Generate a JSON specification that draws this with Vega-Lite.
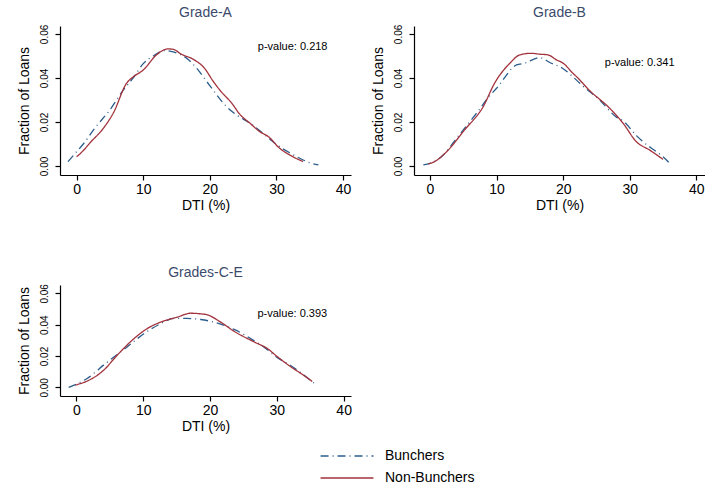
{
  "$schema": "https://vega.github.io/schema/vega-lite/v6.json",
  "padding": {"left": 17, "top": 6, "right": 0, "bottom": 0},
  "background": "white",
  "datasets": {
    "curves": [
      {"panel": "A", "series": "Bunchers", "dti": -1.3, "frac": 0.0020},
      {"panel": "A", "series": "Bunchers", "dti": 0, "frac": 0.0065},
      {"panel": "A", "series": "Bunchers", "dti": 1, "frac": 0.0100},
      {"panel": "A", "series": "Bunchers", "dti": 2.7, "frac": 0.0171},
      {"panel": "A", "series": "Bunchers", "dti": 5, "frac": 0.0255},
      {"panel": "A", "series": "Bunchers", "dti": 7, "frac": 0.0345},
      {"panel": "A", "series": "Bunchers", "dti": 8.5, "frac": 0.0400},
      {"panel": "A", "series": "Bunchers", "dti": 10, "frac": 0.0465},
      {"panel": "A", "series": "Bunchers", "dti": 11.5, "frac": 0.0500},
      {"panel": "A", "series": "Bunchers", "dti": 13.2, "frac": 0.0524},
      {"panel": "A", "series": "Bunchers", "dti": 14.5, "frac": 0.0518},
      {"panel": "A", "series": "Bunchers", "dti": 16.5, "frac": 0.0490},
      {"panel": "A", "series": "Bunchers", "dti": 18, "frac": 0.0445},
      {"panel": "A", "series": "Bunchers", "dti": 20, "frac": 0.0365},
      {"panel": "A", "series": "Bunchers", "dti": 22.5, "frac": 0.0270},
      {"panel": "A", "series": "Bunchers", "dti": 24, "frac": 0.0232},
      {"panel": "A", "series": "Bunchers", "dti": 26, "frac": 0.0195},
      {"panel": "A", "series": "Bunchers", "dti": 28, "frac": 0.0148},
      {"panel": "A", "series": "Bunchers", "dti": 30, "frac": 0.0098},
      {"panel": "A", "series": "Bunchers", "dti": 32, "frac": 0.0060},
      {"panel": "A", "series": "Bunchers", "dti": 33.5, "frac": 0.0035},
      {"panel": "A", "series": "Bunchers", "dti": 35, "frac": 0.0015},
      {"panel": "A", "series": "Bunchers", "dti": 36.3, "frac": 0.0005},
      {"panel": "A", "series": "Non-Bunchers", "dti": 0, "frac": 0.0042},
      {"panel": "A", "series": "Non-Bunchers", "dti": 1, "frac": 0.0070},
      {"panel": "A", "series": "Non-Bunchers", "dti": 2, "frac": 0.0105},
      {"panel": "A", "series": "Non-Bunchers", "dti": 4, "frac": 0.0171},
      {"panel": "A", "series": "Non-Bunchers", "dti": 5.5, "frac": 0.0240},
      {"panel": "A", "series": "Non-Bunchers", "dti": 7.5, "frac": 0.0376},
      {"panel": "A", "series": "Non-Bunchers", "dti": 8.5, "frac": 0.0405},
      {"panel": "A", "series": "Non-Bunchers", "dti": 10, "frac": 0.0436},
      {"panel": "A", "series": "Non-Bunchers", "dti": 12, "frac": 0.0505},
      {"panel": "A", "series": "Non-Bunchers", "dti": 13.7, "frac": 0.0532},
      {"panel": "A", "series": "Non-Bunchers", "dti": 14.5, "frac": 0.0530},
      {"panel": "A", "series": "Non-Bunchers", "dti": 15.7, "frac": 0.0508},
      {"panel": "A", "series": "Non-Bunchers", "dti": 17.5, "frac": 0.0485},
      {"panel": "A", "series": "Non-Bunchers", "dti": 19.2, "frac": 0.0444},
      {"panel": "A", "series": "Non-Bunchers", "dti": 20.5, "frac": 0.0385},
      {"panel": "A", "series": "Non-Bunchers", "dti": 21.5, "frac": 0.0345},
      {"panel": "A", "series": "Non-Bunchers", "dti": 23.3, "frac": 0.0285},
      {"panel": "A", "series": "Non-Bunchers", "dti": 24.5, "frac": 0.0235},
      {"panel": "A", "series": "Non-Bunchers", "dti": 26, "frac": 0.0195},
      {"panel": "A", "series": "Non-Bunchers", "dti": 27.5, "frac": 0.0156},
      {"panel": "A", "series": "Non-Bunchers", "dti": 28.8, "frac": 0.0133},
      {"panel": "A", "series": "Non-Bunchers", "dti": 30.5, "frac": 0.0080},
      {"panel": "A", "series": "Non-Bunchers", "dti": 32, "frac": 0.0050},
      {"panel": "A", "series": "Non-Bunchers", "dti": 34, "frac": 0.0020},
      {"panel": "B", "series": "Bunchers", "dti": -1, "frac": 0.0005},
      {"panel": "B", "series": "Bunchers", "dti": 0, "frac": 0.0012},
      {"panel": "B", "series": "Bunchers", "dti": 2, "frac": 0.0050},
      {"panel": "B", "series": "Bunchers", "dti": 4, "frac": 0.0126},
      {"panel": "B", "series": "Bunchers", "dti": 7, "frac": 0.0240},
      {"panel": "B", "series": "Bunchers", "dti": 9, "frac": 0.0320},
      {"panel": "B", "series": "Bunchers", "dti": 10, "frac": 0.0353},
      {"panel": "B", "series": "Bunchers", "dti": 13, "frac": 0.0459},
      {"panel": "B", "series": "Bunchers", "dti": 14.2, "frac": 0.0467},
      {"panel": "B", "series": "Bunchers", "dti": 16.5, "frac": 0.0492},
      {"panel": "B", "series": "Bunchers", "dti": 18, "frac": 0.0470},
      {"panel": "B", "series": "Bunchers", "dti": 20, "frac": 0.0442},
      {"panel": "B", "series": "Bunchers", "dti": 22, "frac": 0.0390},
      {"panel": "B", "series": "Bunchers", "dti": 23, "frac": 0.0362},
      {"panel": "B", "series": "Bunchers", "dti": 25.3, "frac": 0.0305},
      {"panel": "B", "series": "Bunchers", "dti": 28, "frac": 0.0222},
      {"panel": "B", "series": "Bunchers", "dti": 29, "frac": 0.0205},
      {"panel": "B", "series": "Bunchers", "dti": 31, "frac": 0.0138},
      {"panel": "B", "series": "Bunchers", "dti": 32, "frac": 0.0110},
      {"panel": "B", "series": "Bunchers", "dti": 34, "frac": 0.0065},
      {"panel": "B", "series": "Bunchers", "dti": 35, "frac": 0.0042},
      {"panel": "B", "series": "Bunchers", "dti": 35.9, "frac": 0.0015},
      {"panel": "B", "series": "Non-Bunchers", "dti": -0.25, "frac": 0.0009},
      {"panel": "B", "series": "Non-Bunchers", "dti": 0.7, "frac": 0.0020},
      {"panel": "B", "series": "Non-Bunchers", "dti": 2.5, "frac": 0.0065},
      {"panel": "B", "series": "Non-Bunchers", "dti": 5.2, "frac": 0.0164},
      {"panel": "B", "series": "Non-Bunchers", "dti": 8, "frac": 0.0270},
      {"panel": "B", "series": "Non-Bunchers", "dti": 9.7, "frac": 0.0376},
      {"panel": "B", "series": "Non-Bunchers", "dti": 12, "frac": 0.0467},
      {"panel": "B", "series": "Non-Bunchers", "dti": 13.5, "frac": 0.0505},
      {"panel": "B", "series": "Non-Bunchers", "dti": 15.2, "frac": 0.0512},
      {"panel": "B", "series": "Non-Bunchers", "dti": 16.5, "frac": 0.0508},
      {"panel": "B", "series": "Non-Bunchers", "dti": 17.7, "frac": 0.0505},
      {"panel": "B", "series": "Non-Bunchers", "dti": 19, "frac": 0.0482},
      {"panel": "B", "series": "Non-Bunchers", "dti": 20, "frac": 0.0467},
      {"panel": "B", "series": "Non-Bunchers", "dti": 21.5, "frac": 0.0420},
      {"panel": "B", "series": "Non-Bunchers", "dti": 22, "frac": 0.0406},
      {"panel": "B", "series": "Non-Bunchers", "dti": 24, "frac": 0.0342},
      {"panel": "B", "series": "Non-Bunchers", "dti": 27, "frac": 0.0262},
      {"panel": "B", "series": "Non-Bunchers", "dti": 29, "frac": 0.0194},
      {"panel": "B", "series": "Non-Bunchers", "dti": 31, "frac": 0.0110},
      {"panel": "B", "series": "Non-Bunchers", "dti": 33, "frac": 0.0072},
      {"panel": "B", "series": "Non-Bunchers", "dti": 35, "frac": 0.0030},
      {"panel": "C", "series": "Bunchers", "dti": -1.15, "frac": 0.0000},
      {"panel": "C", "series": "Bunchers", "dti": 1.6, "frac": 0.0057},
      {"panel": "C", "series": "Bunchers", "dti": 4.3, "frac": 0.0150},
      {"panel": "C", "series": "Bunchers", "dti": 7.6, "frac": 0.0258},
      {"panel": "C", "series": "Bunchers", "dti": 10.1, "frac": 0.0342},
      {"panel": "C", "series": "Bunchers", "dti": 12.6, "frac": 0.0406},
      {"panel": "C", "series": "Bunchers", "dti": 14.6, "frac": 0.0440},
      {"panel": "C", "series": "Bunchers", "dti": 16.5, "frac": 0.0440},
      {"panel": "C", "series": "Bunchers", "dti": 18.6, "frac": 0.0433},
      {"panel": "C", "series": "Bunchers", "dti": 20.6, "frac": 0.0416},
      {"panel": "C", "series": "Bunchers", "dti": 23.6, "frac": 0.0370},
      {"panel": "C", "series": "Bunchers", "dti": 26.6, "frac": 0.0298},
      {"panel": "C", "series": "Bunchers", "dti": 28, "frac": 0.0260},
      {"panel": "C", "series": "Bunchers", "dti": 30, "frac": 0.0192},
      {"panel": "C", "series": "Bunchers", "dti": 32.1, "frac": 0.0138},
      {"panel": "C", "series": "Bunchers", "dti": 34, "frac": 0.0080},
      {"panel": "C", "series": "Bunchers", "dti": 35.8, "frac": 0.0019},
      {"panel": "C", "series": "Non-Bunchers", "dti": -0.15, "frac": 0.0015},
      {"panel": "C", "series": "Non-Bunchers", "dti": 1.6, "frac": 0.0040},
      {"panel": "C", "series": "Non-Bunchers", "dti": 4.1, "frac": 0.0110},
      {"panel": "C", "series": "Non-Bunchers", "dti": 6.1, "frac": 0.0205},
      {"panel": "C", "series": "Non-Bunchers", "dti": 8.6, "frac": 0.0310},
      {"panel": "C", "series": "Non-Bunchers", "dti": 10.6, "frac": 0.0375},
      {"panel": "C", "series": "Non-Bunchers", "dti": 12.6, "frac": 0.0416},
      {"panel": "C", "series": "Non-Bunchers", "dti": 15.1, "frac": 0.0448},
      {"panel": "C", "series": "Non-Bunchers", "dti": 17.1, "frac": 0.0473},
      {"panel": "C", "series": "Non-Bunchers", "dti": 18.6, "frac": 0.0469},
      {"panel": "C", "series": "Non-Bunchers", "dti": 19.6, "frac": 0.0463},
      {"panel": "C", "series": "Non-Bunchers", "dti": 21.6, "frac": 0.0416},
      {"panel": "C", "series": "Non-Bunchers", "dti": 23.6, "frac": 0.0358},
      {"panel": "C", "series": "Non-Bunchers", "dti": 26.6, "frac": 0.0290},
      {"panel": "C", "series": "Non-Bunchers", "dti": 28.6, "frac": 0.0247},
      {"panel": "C", "series": "Non-Bunchers", "dti": 30.1, "frac": 0.0195},
      {"panel": "C", "series": "Non-Bunchers", "dti": 32.1, "frac": 0.0131},
      {"panel": "C", "series": "Non-Bunchers", "dti": 33.6, "frac": 0.0089},
      {"panel": "C", "series": "Non-Bunchers", "dti": 35.3, "frac": 0.0038}
    ]
  },
  "vconcat": [
    {
      "hconcat": [
        {
          "title": "Grade-A",
          "width": 291,
          "height": 149,
          "layer": [
            {
              "data": {"name": "curves"},
              "transform": [{"filter": "datum.panel === 'A'"}],
              "mark": {"type": "line", "strokeWidth": 1.3, "interpolate": "monotone"},
              "encoding": {
                "x": {"field": "dti", "type": "quantitative", "scale": {"domain": [-2.5, 41.2], "nice": false, "zero": false}, "axis": {"values": [0, 10, 20, 30, 40], "tickCount": 10, "title": "DTI (%)"}},
                "y": {"field": "frac", "type": "quantitative", "scale": {"domain": [-0.0041, 0.0636], "nice": false, "zero": false}, "axis": {"values": [0, 0.02, 0.04, 0.06], "tickCount": 10, "format": ".2f", "title": "Fraction of Loans", "labelOverlap": false}},
                "color": {"field": "series", "type": "nominal", "scale": {"domain": ["Bunchers", "Non-Bunchers"], "range": ["#2b5d8c", "#a2323c"]}, "legend": {"title": null, "orient": "none", "legendX": 280, "legendY": 423}},
                "strokeDash": {"field": "series", "type": "nominal", "scale": {"domain": ["Bunchers", "Non-Bunchers"], "range": [[8, 4, 1, 4], [1, 0]]}, "legend": {"title": null, "orient": "none", "legendX": 280, "legendY": 423}}
              }
            },
            {
              "data": {"values": [{}]},
              "mark": {"type": "text", "align": "left", "baseline": "middle", "fontSize": 11, "color": "#000000"},
              "encoding": {
                "x": {"datum": 27.2, "type": "quantitative"},
                "y": {"datum": 0.0541, "type": "quantitative"},
                "text": {"value": "p-value: 0.218"}
              }
            }
          ]
        },
        {
          "title": "Grade-B",
          "width": 291,
          "height": 149,
          "layer": [
            {
              "data": {"name": "curves"},
              "transform": [{"filter": "datum.panel === 'B'"}],
              "mark": {"type": "line", "strokeWidth": 1.3, "interpolate": "monotone"},
              "encoding": {
                "x": {"field": "dti", "type": "quantitative", "scale": {"domain": [-2.4, 41.3], "nice": false, "zero": false}, "axis": {"values": [0, 10, 20, 30, 40], "tickCount": 10, "title": "DTI (%)"}},
                "y": {"field": "frac", "type": "quantitative", "scale": {"domain": [-0.0041, 0.0636], "nice": false, "zero": false}, "axis": {"values": [0, 0.02, 0.04, 0.06], "tickCount": 10, "format": ".2f", "title": "Fraction of Loans", "labelOverlap": false}},
                "color": {"field": "series", "type": "nominal", "scale": {"domain": ["Bunchers", "Non-Bunchers"], "range": ["#2b5d8c", "#a2323c"]}, "legend": {"title": null, "orient": "none", "legendX": 280, "legendY": 423}},
                "strokeDash": {"field": "series", "type": "nominal", "scale": {"domain": ["Bunchers", "Non-Bunchers"], "range": [[8, 4, 1, 4], [1, 0]]}, "legend": {"title": null, "orient": "none", "legendX": 280, "legendY": 423}}
              }
            },
            {
              "data": {"values": [{}]},
              "mark": {"type": "text", "align": "left", "baseline": "middle", "fontSize": 11, "color": "#000000"},
              "encoding": {
                "x": {"datum": 26.25, "type": "quantitative"},
                "y": {"datum": 0.0468, "type": "quantitative"},
                "text": {"value": "p-value: 0.341"}
              }
            }
          ]
        }
      ]
    },
    {
      "title": "Grades-C-E",
      "width": 291,
      "height": 111,
      "layer": [
        {
          "data": {"name": "curves"},
          "transform": [{"filter": "datum.panel === 'C'"}],
          "mark": {"type": "line", "strokeWidth": 1.3, "interpolate": "monotone"},
          "encoding": {
            "x": {"field": "dti", "type": "quantitative", "scale": {"domain": [-2.45, 41.1], "nice": false, "zero": false}, "axis": {"values": [0, 10, 20, 30, 40], "tickCount": 10, "title": "DTI (%)"}},
            "y": {"field": "frac", "type": "quantitative", "scale": {"domain": [-0.0055, 0.0653], "nice": false, "zero": false}, "axis": {"values": [0, 0.02, 0.04, 0.06], "tickCount": 10, "format": ".2f", "title": "Fraction of Loans", "labelOverlap": false}},
            "color": {"field": "series", "type": "nominal", "scale": {"domain": ["Bunchers", "Non-Bunchers"], "range": ["#2b5d8c", "#a2323c"]}, "legend": {"title": null, "orient": "none", "legendX": 280, "legendY": 423}},
            "strokeDash": {"field": "series", "type": "nominal", "scale": {"domain": ["Bunchers", "Non-Bunchers"], "range": [[8, 4, 1, 4], [1, 0]]}, "legend": {"title": null, "orient": "none", "legendX": 280, "legendY": 423}}
          }
        },
        {
          "data": {"values": [{}]},
          "mark": {"type": "text", "align": "left", "baseline": "middle", "fontSize": 11, "color": "#000000"},
          "encoding": {
            "x": {"datum": 27.1, "type": "quantitative"},
            "y": {"datum": 0.0465, "type": "quantitative"},
            "text": {"value": "p-value: 0.393"}
          }
        }
      ]
    }
  ],
  "spacing": 53,
  "resolve": {"scale": {"color": "shared", "strokeDash": "shared"}},
  "config": {
    "font": "Liberation Sans",
    "view": {"stroke": null},
    "concat": {"spacing": 20},
    "axis": {
      "grid": false,
      "domainColor": "#000000",
      "tickColor": "#000000",
      "labelColor": "#000000",
      "titleColor": "#000000",
      "titleFontWeight": "normal",
      "labelFont": "Liberation Sans",
      "titleFont": "Liberation Sans",
      "tickSize": 5,
      "domainWidth": 1.2,
      "tickWidth": 1.2,
      "labelOverlap": false
    },
    "axisX": {"labelFontSize": 14, "titleFontSize": 14, "labelPadding": 2, "titlePadding": 2, "labelFlush": false},
    "axisY": {"labelFontSize": 10, "titleFontSize": 14, "labelAngle": 270, "labelPadding": 6, "titlePadding": 8, "labelFlush": false},
    "title": {"fontSize": 14, "fontWeight": "normal", "color": "#3b4a6b", "font": "Liberation Sans", "offset": 4, "anchor": "middle"},
    "legend": {
      "symbolType": "M-5,0H5",
      "symbolSize": 112,
      "symbolStrokeWidth": 1.3,
      "symbolFillColor": "transparent",
      "labelFontSize": 14,
      "labelFont": "Liberation Sans",
      "labelColor": "#000000",
      "labelOffset": 31,
      "rowPadding": 8
    }
  }
}
